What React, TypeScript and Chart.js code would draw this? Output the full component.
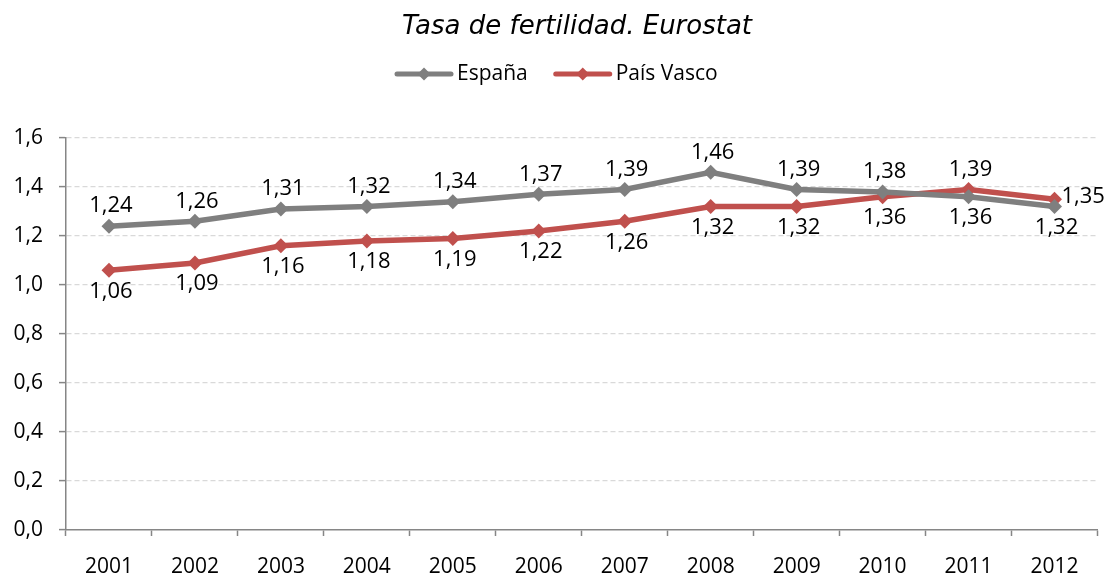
import React, { useEffect, useRef } from 'react';
import { Chart, registerables } from 'chart.js';

Chart.register(...registerables);

const TITLE = 'Tasa de fertilidad. Eurostat';
const years = ['2001', '2002', '2003', '2004', '2005', '2006', '2007', '2008', '2009', '2010', '2011', '2012'];
const espana = [1.24, 1.26, 1.31, 1.32, 1.34, 1.37, 1.39, 1.46, 1.39, 1.38, 1.36, 1.32];
const paisVasco = [1.06, 1.09, 1.16, 1.18, 1.19, 1.22, 1.26, 1.32, 1.32, 1.36, 1.39, 1.35];
const espanaLabelPos = ['above', 'above', 'above', 'above', 'above', 'above', 'above', 'above', 'above', 'above', 'below', 'below'];
const paisVascoLabelPos = ['below', 'below', 'below', 'below', 'below', 'below', 'below', 'below', 'below', 'below', 'above', 'right'];
const labelPositions = [espanaLabelPos, paisVascoLabelPos];

const FONT = '"Open Sans", "Noto Sans", sans-serif';
const TITLE_FONT = '"DejaVu Sans", Verdana, sans-serif';
const GREY = '#7f7f7f';
const RED = '#c0504d';

const fmt = (v: number, d: number) => v.toFixed(d).replace('.', ',');

const drawDiamond = (ctx: CanvasRenderingContext2D, x: number, y: number, r: number, color: string) => {
  ctx.beginPath();
  ctx.moveTo(x, y - r);
  ctx.lineTo(x + r, y);
  ctx.lineTo(x, y + r);
  ctx.lineTo(x - r, y);
  ctx.closePath();
  ctx.fillStyle = color;
  ctx.fill();
};

const headerPlugin = {
  id: 'header',
  afterDraw(chart: any) {
    const ctx: CanvasRenderingContext2D = chart.ctx;
    ctx.save();
    ctx.fillStyle = '#000';
    ctx.textBaseline = 'middle';
    ctx.textAlign = 'center';
    ctx.font = `italic 26px ${TITLE_FONT}`;
    ctx.fillText(TITLE, 577, 27);
    ctx.font = `21px ${FONT}`;
    ctx.textAlign = 'left';
    let x = 397;
    const y = 74;
    chart.data.datasets.forEach((ds: any) => {
      ctx.strokeStyle = ds.borderColor;
      ctx.lineWidth = 5;
      ctx.lineCap = 'round';
      ctx.beginPath();
      ctx.moveTo(x, y);
      ctx.lineTo(x + 54, y);
      ctx.stroke();
      drawDiamond(ctx, x + 27, y, 6.5, ds.borderColor);
      ctx.fillStyle = '#000';
      ctx.fillText(ds.label, x + 60, y);
      x += 60 + ctx.measureText(ds.label).width + 28;
    });
    ctx.restore();
  },
};

const dataLabelPlugin = {
  id: 'dataLabels',
  afterDatasetsDraw(chart: any) {
    const ctx: CanvasRenderingContext2D = chart.ctx;
    ctx.save();
    ctx.font = `22px ${FONT}`;
    ctx.fillStyle = '#000';
    chart.data.datasets.forEach((ds: any, di: number) => {
      const meta = chart.getDatasetMeta(di);
      meta.data.forEach((pt: any, i: number) => {
        const pos = labelPositions[di][i];
        const text = fmt(ds.data[i], 2);
        ctx.textBaseline = 'middle';
        if (pos === 'above') {
          ctx.textAlign = 'center';
          ctx.fillText(text, pt.x + 2, pt.y - 20);
        } else if (pos === 'below') {
          ctx.textAlign = 'center';
          ctx.fillText(text, pt.x + 2, pt.y + 21);
        } else {
          ctx.textAlign = 'left';
          ctx.fillText(text, pt.x + 7, pt.y - 3);
        }
      });
    });
    ctx.restore();
  },
};

export default function App() {
  const ref = useRef<HTMLCanvasElement>(null);
  useEffect(() => {
    document.body.style.margin = '0';
    const canvas = ref.current!;
    const chart = new Chart(canvas, {
      type: 'line',
      data: {
        labels: years,
        datasets: [
          {
            label: 'España',
            data: espana,
            borderColor: GREY,
            backgroundColor: GREY,
            borderWidth: 5.5,
            pointStyle: 'rectRot',
            pointRadius: 7.5,
            pointBorderWidth: 0,
            tension: 0,
          },
          {
            label: 'País Vasco',
            data: paisVasco,
            borderColor: RED,
            backgroundColor: RED,
            borderWidth: 5.5,
            pointStyle: 'rectRot',
            pointRadius: 7.5,
            pointBorderWidth: 0,
            tension: 0,
          },
        ],
      },
      options: {
        responsive: false,
        animation: false,
        devicePixelRatio: 1,
        layout: { padding: { top: 138, right: 5, left: 0, bottom: 0 } },
        plugins: {
          legend: { display: false },
          title: { display: false },
          tooltip: { enabled: false },
        },
        scales: {
          x: {
            offset: true,
            grid: {
              offset: true,
              drawOnChartArea: false,
              drawTicks: true,
              tickLength: 6,
              tickColor: '#868686',
              tickWidth: 1.5,
            },
            border: { display: true, color: '#868686', width: 1.5 },
            ticks: { color: '#000', font: { family: FONT, size: 21 }, padding: 18, maxRotation: 0 },
            afterFit: (s: any) => { s.height = 48; },
          },
          y: {
            min: 0,
            max: 1.6,
            ticks: {
              stepSize: 0.2,
              color: '#000',
              font: { family: FONT, size: 21 },
              padding: 16,
              callback: (v: any) => fmt(Number(v), 1),
            },
            grid: {
              color: (c: any) => (c.tick && c.tick.value === 0 ? 'rgba(0,0,0,0)' : '#d9d9d9'),
              lineWidth: 1.2,
              tickLength: 7,
              tickColor: '#868686',
              tickWidth: 1.5,
            },
            border: { display: true, color: '#868686', width: 1.5, dash: [5, 3] },
            afterFit: (s: any) => { s.width = 66; },
          },
        },
      },
      plugins: [dataLabelPlugin, headerPlugin],
    } as any);
    return () => chart.destroy();
  }, []);
  return <canvas ref={ref} width={1105} height={578} style={{ display: 'block' }} />;
}
